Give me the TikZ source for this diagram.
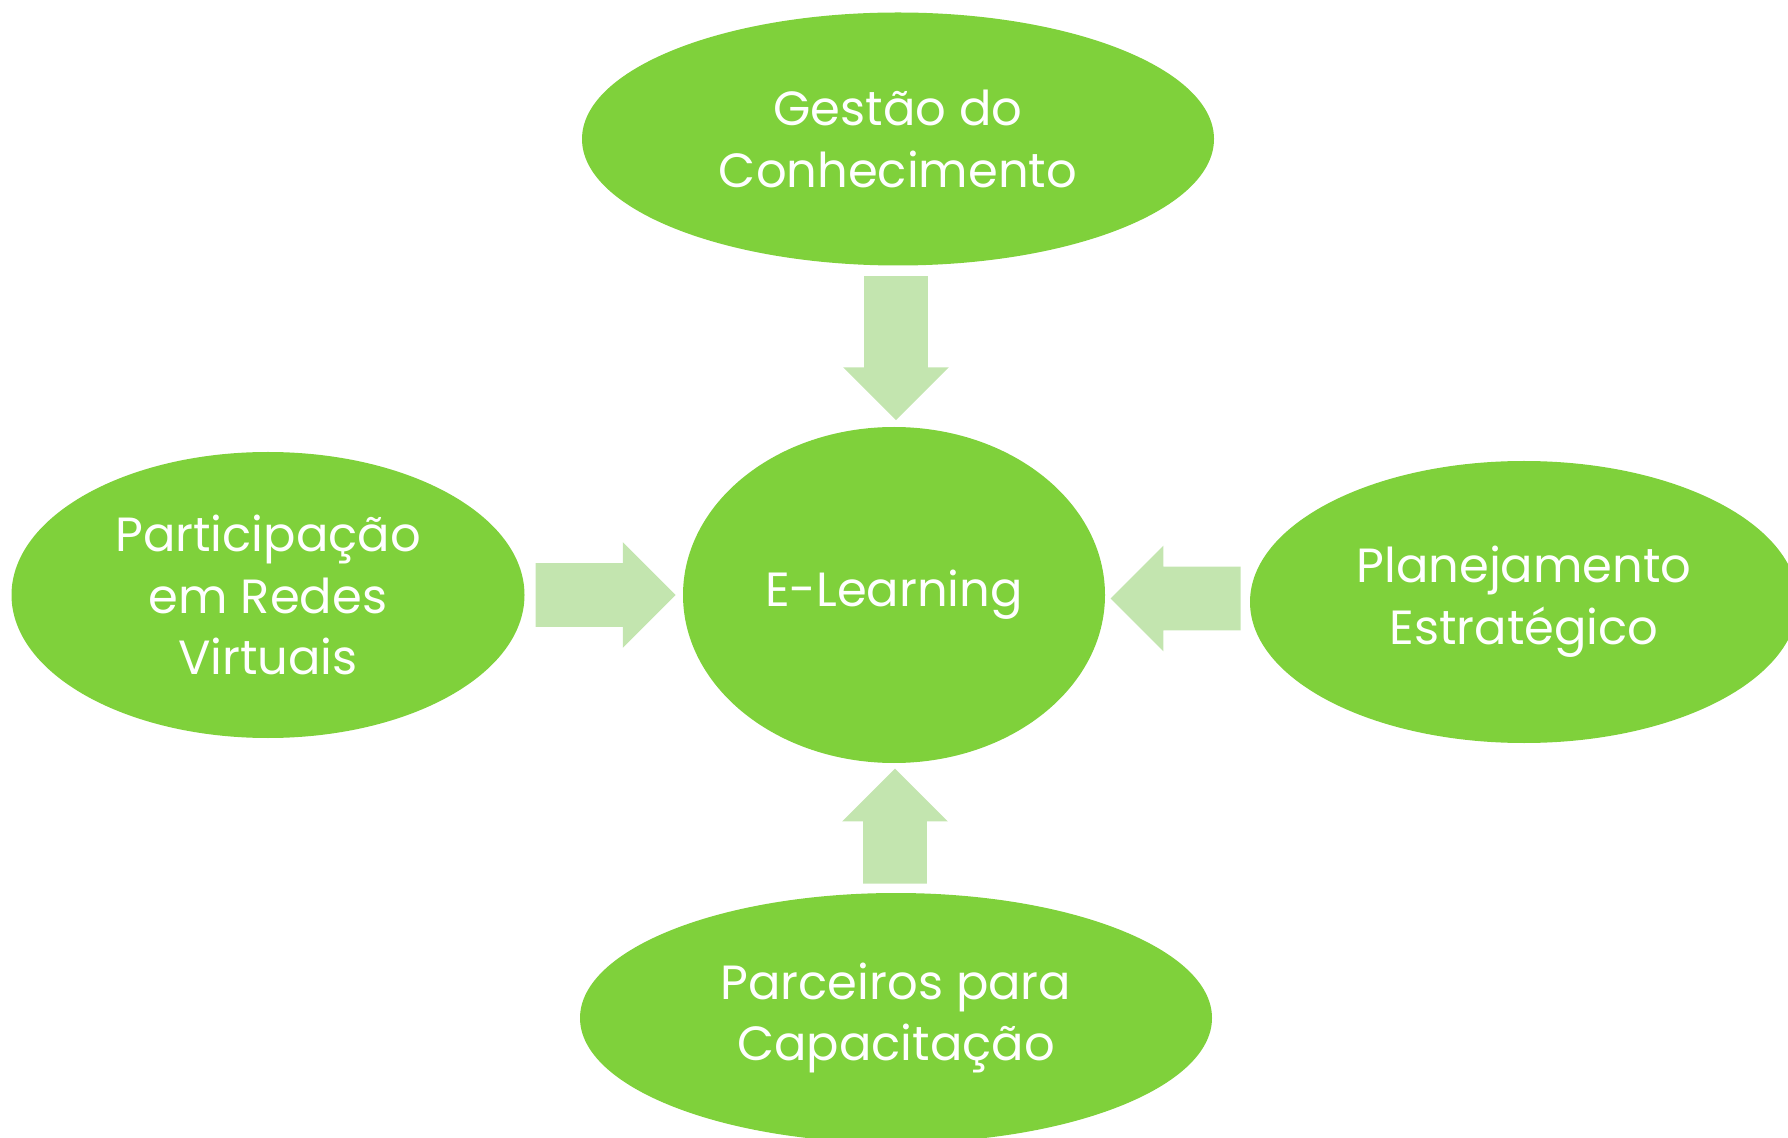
\documentclass[tikz,border=0pt]{standalone}
\usepackage{fontspec}
\setmainfont{Poppins}
\usetikzlibrary{shapes.geometric,shapes.arrows,calc}

\definecolor{leafgreen}{HTML}{7FD13B}
\definecolor{palegreen}{HTML}{C3E5AF}

\tikzset{
  bubble/.style={ellipse, fill=leafgreen, text=white, align=center,
    inner sep=0pt, font=\fontsize{24}{30.8}\selectfont},
  blockarrow/.style={single arrow, fill=palegreen, inner sep=0pt,
    inner ysep=15.75pt, single arrow head extend=10.5pt}
}

\begin{document}
\begin{tikzpicture}[x=0.5pt,y=-0.5pt]
        \clip (0,0) rectangle (1788,1138);
        %
        \node [bubble, minimum width=316pt, minimum height=126.5pt] (gestao) at (898,139) {Gestão do\\Conhecimento};
        \node [bubble, minimum width=211pt, minimum height=168pt] (elearn) at (894,595) {E-Learning};
        \node [bubble, minimum width=256.5pt, minimum height=143pt] (redes) at (268,595) {Participação\\em Redes\\Virtuais};
        \node [bubble, minimum width=274pt, minimum height=141pt] (plano) at (1524,602) {Planejamento\\Estratégico};
        \node [bubble, minimum width=316pt, minimum height=125pt] (parceiros) at (896,1018) {Parceiros para\\Capacitação};
        %
        \node [blockarrow, minimum height=72pt, rotate=-90] (arrtop) at ($(gestao.south)!0.5!(elearn.north)+(0,-14)$) {};
        \node [blockarrow, minimum height=70pt] (arrleft) at ($(redes.east)!0.5!(elearn.west)+(-14,0)$) {};
        \node [blockarrow, minimum height=65pt, rotate=180] (arrright) at ($(plano.west)!0.5!(elearn.east)+(14,0)$) {};
        \node [blockarrow, minimum height=57.5pt, rotate=90] (arrbottom) at ($(parceiros.north)!0.5!(elearn.south)+(0,14)$) {};
\end{tikzpicture}
\end{document}
